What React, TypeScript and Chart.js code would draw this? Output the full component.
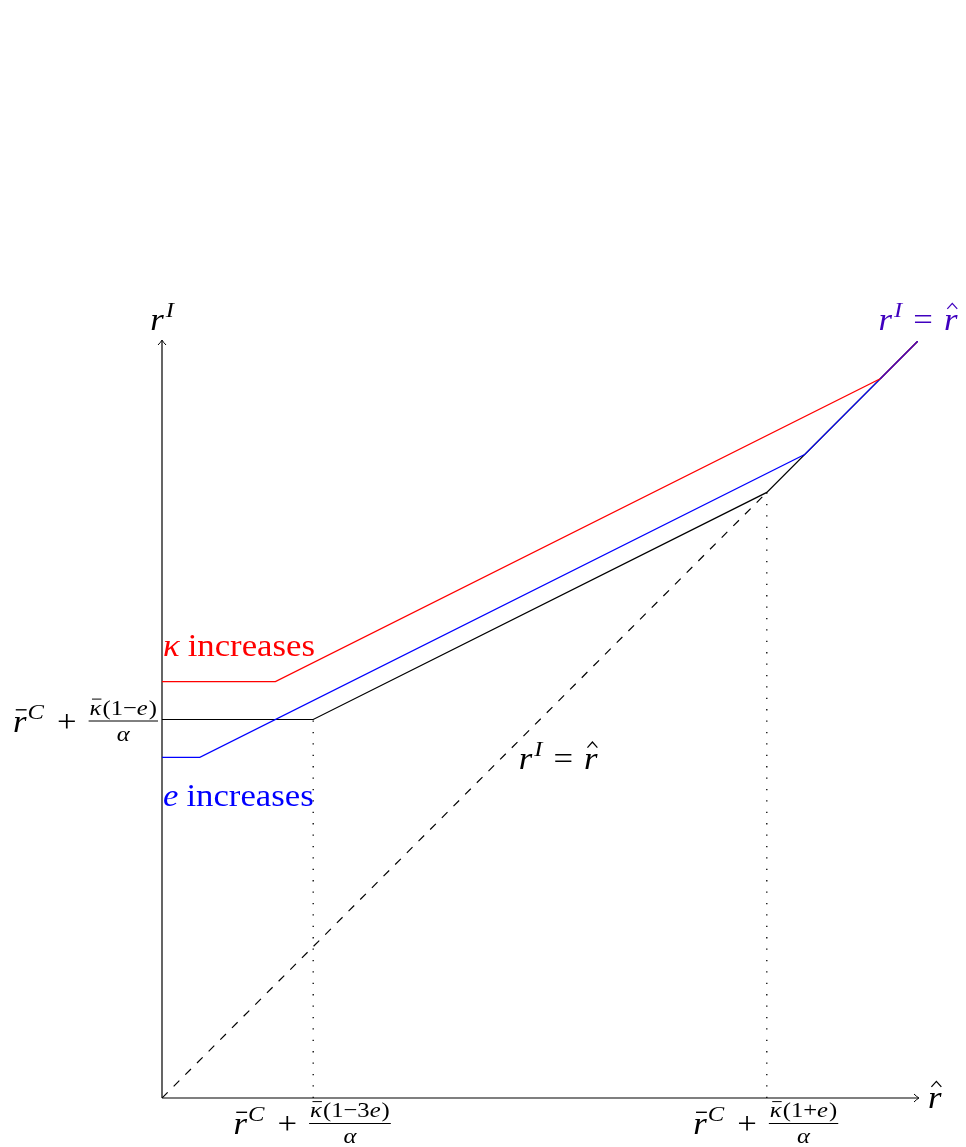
import React, { useEffect, useRef } from "react";
import { Chart, registerables } from "chart.js";

Chart.register(...registerables);

// ---- data ----
const blackX = [0, 2, 8, 10];
const blackY = [5, 5, 8, 10];
const blueX = [0, 0.5, 8.5, 10];
const blueY = [4.5, 4.5, 8.5, 10];
const redX = [0, 1.5, 9.5, 10];
const redY = [5.5, 5.5, 9.5, 10];
const topX = [9.5, 10];
const topY = [9.5, 10];
const diagX = [0, 8];
const diagY = [0, 8];
const guideX = [2, 8];
const guideTop = [5, 8];
const axisMax = 10;
const xTickPos = [2, 8];
const xTickNum = ["1\u22123e", "1+e"];
const yTickPos = [5];
const yTickNum = ["1\u2212e"];
const midLabelAt = [5.24, 4.35];

const RED = "#ff0000";
const BLUE = "#0000ff";
const PURPLE = "#4000bf";
const FONT = '"Liberation Serif", "DejaVu Serif", serif';
const M = 31;
const S = 22;
const HS = 1.12;

type Piece = { text: string; size: number; italic?: boolean; dy?: number; gap?: number; accent?: "bar" | "hat" };

const font = (size: number, italic?: boolean) => `${italic ? "italic " : ""}${size}px ${FONT}`;

function pw(ctx: CanvasRenderingContext2D, p: Piece) {
  ctx.font = font(p.size, p.italic);
  return ctx.measureText(p.text).width * HS;
}

function piecesWidth(ctx: CanvasRenderingContext2D, ps: Piece[]) {
  let w = 0;
  for (const p of ps) w += (p.gap || 0) + pw(ctx, p);
  return w;
}

function drawPieces(ctx: CanvasRenderingContext2D, ps: Piece[], x: number, base: number, color: string) {
  ctx.fillStyle = color;
  ctx.strokeStyle = color;
  ctx.textBaseline = "alphabetic";
  ctx.textAlign = "left";
  let cx = x;
  for (const p of ps) {
    cx += p.gap || 0;
    const w = pw(ctx, p);
    const b = base + (p.dy || 0);
    ctx.save();
    ctx.translate(cx, b);
    ctx.scale(HS, 1);
    ctx.fillText(p.text, 0, 0);
    ctx.restore();
    if (p.accent === "bar") {
      ctx.lineWidth = p.size * 0.045;
      ctx.beginPath();
      ctx.moveTo(cx + w * 0.2, b - p.size * 0.7);
      ctx.lineTo(cx + w * 1.0, b - p.size * 0.7);
      ctx.stroke();
    } else if (p.accent === "hat") {
      const mid = cx + w * 0.62;
      const hw = p.size * 0.16;
      ctx.lineWidth = p.size * 0.04;
      ctx.beginPath();
      ctx.moveTo(mid - hw, b - p.size * 0.68);
      ctx.lineTo(mid, b - p.size * 0.86);
      ctx.lineTo(mid + hw, b - p.size * 0.68);
      ctx.stroke();
    }
    cx += w;
  }
  return cx;
}

function numPieces(num: string): Piece[] {
  const ps: Piece[] = [{ text: "\u03ba", size: S, italic: true, accent: "bar" }, { text: "(", size: S, gap: 1 }];
  const parts = num.split("e");
  parts.forEach((part, i) => {
    if (part) ps.push({ text: part, size: S });
    if (i < parts.length - 1) ps.push({ text: "e", size: S, italic: true });
  });
  ps.push({ text: ")", size: S, gap: 1 });
  return ps;
}

function fracLabel(ctx: CanvasRenderingContext2D, num: string, anchorX: number, barY: number, align: "right" | "center") {
  const head: Piece[] = [
    { text: "r", size: M, italic: true, accent: "bar" },
    { text: "C", size: S, italic: true, dy: -13, gap: 1 },
    { text: "+", size: M, gap: 13 },
  ];
  const np = numPieces(num);
  const dp: Piece[] = [{ text: "\u03b1", size: S, italic: true }];
  const headW = piecesWidth(ctx, head);
  const nW = piecesWidth(ctx, np);
  const dW = piecesWidth(ctx, dp);
  const gap = 12;
  const fW = Math.max(nW, dW) + 2;
  const total = headW + gap + fW;
  const left = align === "right" ? anchorX - total : anchorX - total / 2;
  drawPieces(ctx, head, left, barY + 11, "#000");
  const fx = left + headW + gap;
  drawPieces(ctx, np, fx + (fW - nW) / 2, barY - 6, "#000");
  drawPieces(ctx, dp, fx + (fW - dW) / 2, barY + 20, "#000");
  ctx.lineWidth = 1;
  ctx.beginPath();
  ctx.moveTo(fx, barY + 0.5);
  ctx.lineTo(fx + fW, barY + 0.5);
  ctx.stroke();
}

function eqPieces(): Piece[] {
  return [
    { text: "r", size: M, italic: true },
    { text: "I", size: S, italic: true, dy: -13, gap: 2 },
    { text: "=", size: M, gap: 11 },
    { text: "r", size: M, italic: true, gap: 11, accent: "hat" },
  ];
}

function arrow(ctx: CanvasRenderingContext2D, tx: number, ty: number, dir: "right" | "up") {
  ctx.beginPath();
  if (dir === "right") {
    ctx.moveTo(tx - 5, ty - 4);
    ctx.quadraticCurveTo(tx - 2, ty - 1, tx, ty);
    ctx.quadraticCurveTo(tx - 2, ty + 1, tx - 5, ty + 4);
  } else {
    ctx.moveTo(tx - 4, ty + 5);
    ctx.quadraticCurveTo(tx - 1, ty + 2, tx, ty);
    ctx.quadraticCurveTo(tx + 1, ty + 2, tx + 4, ty + 5);
  }
  ctx.stroke();
}

const diagramPlugin = {
  id: "diagram",
  beforeDatasetsDraw(chart: any) {
    const { ctx } = chart;
    const xs = chart.scales.x;
    const ys = chart.scales.y;
    const x0 = xs.getPixelForValue(0);
    const y0 = ys.getPixelForValue(0);
    const x1 = xs.getPixelForValue(axisMax);
    const y1 = ys.getPixelForValue(axisMax);
    ctx.save();
    ctx.strokeStyle = "#000";
    ctx.lineWidth = 1.2;
    ctx.setLineDash([]);
    ctx.beginPath();
    ctx.moveTo(x0, y0);
    ctx.lineTo(x1, y0);
    ctx.moveTo(x0, y0);
    ctx.lineTo(x0, y1);
    ctx.stroke();
    ctx.lineWidth = 1;
    arrow(ctx, x1 + 1, y0, "right");
    arrow(ctx, x0, y1 - 1, "up");
    ctx.restore();
  },
  afterDatasetsDraw(chart: any) {
    const { ctx } = chart;
    const xs = chart.scales.x;
    const ys = chart.scales.y;
    const x0 = xs.getPixelForValue(0);
    const y0 = ys.getPixelForValue(0);
    const x1 = xs.getPixelForValue(axisMax);
    const y1 = ys.getPixelForValue(axisMax);
    ctx.save();
    ctx.setLineDash([]);
    // axis labels
    const yl: Piece[] = [
      { text: "r", size: M, italic: true },
      { text: "I", size: S, italic: true, dy: -13, gap: 2 },
    ];
    drawPieces(ctx, yl, x0 - piecesWidth(ctx, yl) / 2, y1 - 11, "#000");
    drawPieces(ctx, [{ text: "r", size: M, italic: true, accent: "hat" }], x1 + 10, y0 + 10, "#000");
    // tick labels
    xTickPos.forEach((v, i) => fracLabel(ctx, xTickNum[i], xs.getPixelForValue(v) - 1, y0 + 25, "center"));
    yTickPos.forEach((v, i) => fracLabel(ctx, yTickNum[i], x0 - 4, ys.getPixelForValue(v) + 1, "right"));
    // annotations
    drawPieces(
      ctx,
      [
        { text: "\u03ba", size: M, italic: true },
        { text: "increases", size: M, gap: 8 },
      ],
      x0 + 1,
      ys.getPixelForValue(redY[0]) - 26,
      RED
    );
    drawPieces(
      ctx,
      [
        { text: "e", size: M, italic: true },
        { text: "increases", size: M, gap: 8 },
      ],
      x0 + 1,
      ys.getPixelForValue(blueY[0]) + 49,
      BLUE
    );
    const eq = eqPieces();
    const eqW = piecesWidth(ctx, eq);
    drawPieces(ctx, eq, xs.getPixelForValue(midLabelAt[0]) - eqW / 2, ys.getPixelForValue(midLabelAt[1]), "#000");
    drawPieces(ctx, eq, x1 - eqW / 2, y1 - 11, PURPLE);
    ctx.restore();
  },
};

const pts = (xs: number[], ys: number[]) => xs.map((x, i) => ({ x, y: ys[i] }));

export default function App() {
  const ref = useRef<HTMLCanvasElement | null>(null);
  useEffect(() => {
    if (!ref.current) return;
    const line = { showLine: true, pointRadius: 0, borderWidth: 1.2, fill: false, tension: 0 };
    const datasets: any[] = [
      { ...line, data: pts(topX, topY), borderColor: PURPLE, order: 0 },
      { ...line, data: pts(redX, redY), borderColor: RED, order: 1 },
      { ...line, data: pts(blueX, blueY), borderColor: BLUE, order: 2 },
      { ...line, data: pts(blackX, blackY), borderColor: "#000", order: 3 },
      { ...line, data: pts(diagX, diagY), borderColor: "#000", borderDash: [8, 8.5], order: 4 },
      ...guideX.map((gx, i) => ({
        ...line,
        data: pts([gx, gx], [0, guideTop[i]]),
        borderColor: "#000",
        borderWidth: 1.3,
        borderDash: [1.3, 10.1],
        order: 5,
      })),
    ];
    const chart = new Chart(ref.current, {
      type: "scatter",
      data: { datasets },
      options: {
        animation: false,
        responsive: false,
        devicePixelRatio: 1,
        layout: { padding: { left: 162, right: 48, top: 341, bottom: 49 } },
        scales: {
          x: { type: "linear", min: 0, max: axisMax, display: false },
          y: { type: "linear", min: 0, max: axisMax, display: false },
        },
        plugins: { legend: { display: false }, tooltip: { enabled: false } },
      },
      plugins: [diagramPlugin],
    } as any);
    return () => chart.destroy();
  }, []);
  return (
    <div style={{ position: "absolute", left: 0, top: 0, width: 966, height: 1147, background: "#fff" }}>
      <canvas ref={ref} width={966} height={1147} style={{ display: "block" }} />
    </div>
  );
}
